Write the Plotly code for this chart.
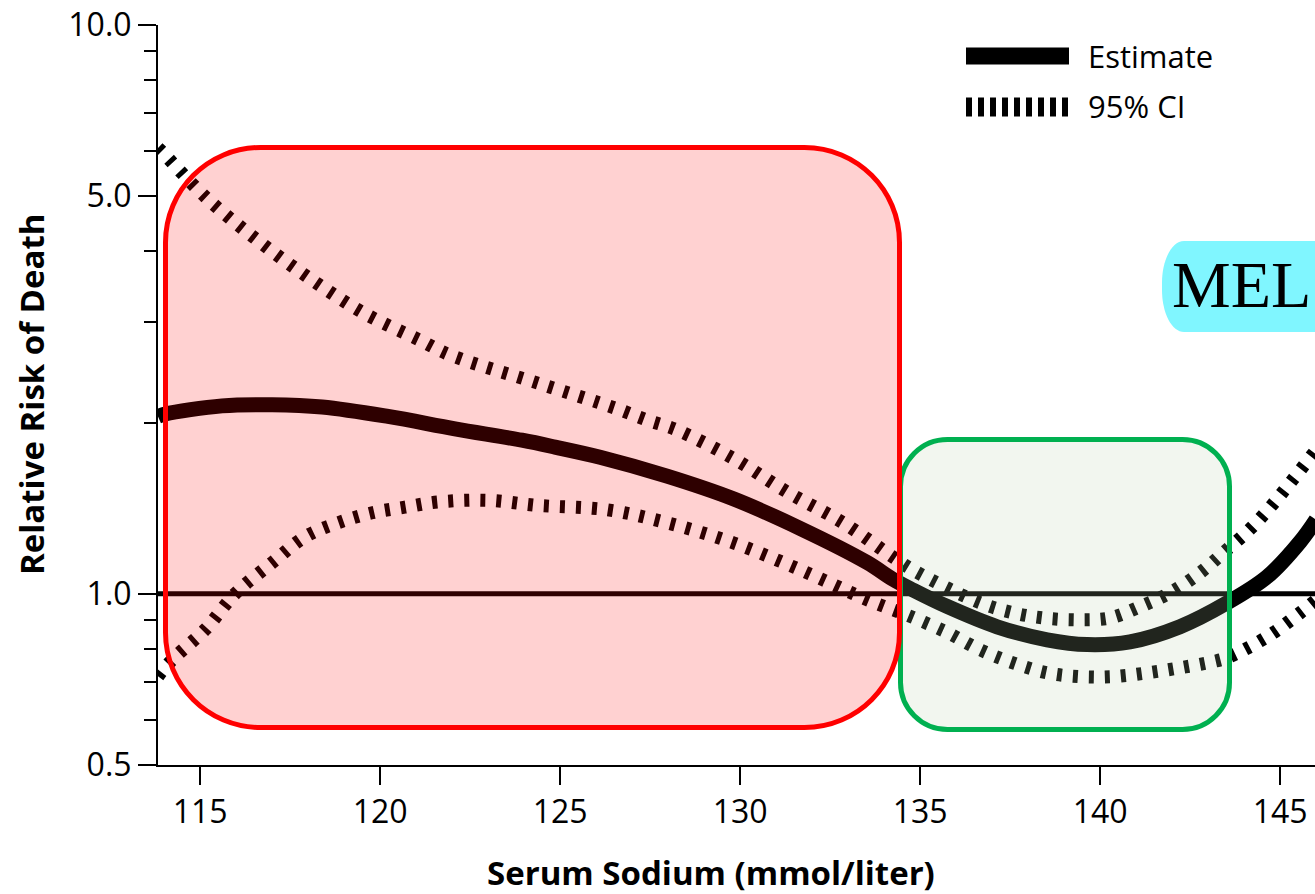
import numpy as np
import plotly.graph_objects as go

# Relative risk of death versus serum sodium (mmol/liter)
est_sodium = [113.83, 114.03, 115.61, 117.0, 118.39, 120.22, 122.08, 123.94, 124.86, 126.11,
              127.97, 129.81, 131.67, 133.53, 134.25, 134.81, 135.75, 137.14, 138.53, 139.64,
              140.83, 142.22, 143.53, 144.64, 145.56, 146.0]
est_rr = [2.05, 2.07, 2.14, 2.15, 2.13, 2.05, 1.95, 1.862, 1.811, 1.738,
          1.61, 1.469, 1.303, 1.135, 1.06, 1.015, 0.95, 0.875, 0.83, 0.814,
          0.823, 0.875, 0.964, 1.071, 1.235, 1.35]

ci_up_sodium = [113.83, 113.97, 115.14, 116.58, 118.06, 119.53, 121.11, 121.94, 124.44, 126.53,
                127.42, 128.25, 129.81, 131.31, 132.86, 134.25, 134.81, 136.67, 137.58, 138.42,
                139.36, 140.28, 141.11, 141.94, 142.78, 143.42, 144.17, 144.81, 145.36, 146.0]
ci_up_rr = [6.08, 5.96, 4.99, 4.19, 3.58, 3.12, 2.79, 2.63, 2.34, 2.12,
            2.02, 1.94, 1.73, 1.51, 1.333, 1.16, 1.10, 0.964, 0.926, 0.907,
            0.90, 0.907, 0.949, 1.004, 1.089, 1.18, 1.30, 1.44, 1.59, 1.79]

ci_lo_sodium = [113.83, 113.97, 114.31, 115.14, 115.97, 117.0, 117.92, 118.83, 119.78, 120.69,
                121.61, 123.0, 124.39, 126.31, 127.97, 129.81, 131.67, 133.53, 134.25, 134.72,
                135.75, 136.67, 137.58, 138.53, 139.44, 140.36, 141.31, 142.22, 143.14, 143.53,
                144.64, 145.56, 146.0]
ci_lo_rr = [0.716, 0.735, 0.775, 0.865, 1.0, 1.134, 1.26, 1.333, 1.388, 1.42,
            1.45, 1.46, 1.43, 1.405, 1.333, 1.229, 1.102, 0.976, 0.937, 0.913,
            0.855, 0.797, 0.756, 0.726, 0.715, 0.715, 0.726, 0.741, 0.76, 0.772,
            0.84, 0.926, 0.975]

reference_rr = 1.0
x_range = [113.83, 145.97]
y_range = [0.5, 10.0]

x_ticks = [115, 120, 125, 130, 135, 140, 145]
y_ticks = [0.5, 1.0, 5.0, 10.0]
y_tick_text = ["0.5", "1.0", "5.0", "10.0"]
y_minor_ticks = [0.6, 0.7, 0.8, 0.9, 2, 3, 4, 6, 7, 8, 9]

legend_labels = ["Estimate", "95% CI"]
x_title = "Serum Sodium (mmol/liter)"
y_title = "Relative Risk of Death"
badge_text = "MEL"

# Figure geometry (pixels)
W, H = 1315, 894
PL, PR, PT, PB = 158, 1315, 25, 765


def px(x):
    return (x - PL) / (PR - PL)


def py(y):
    return (PB - y) / (PB - PT)


def rounded_rect(x0, y0, x1, y1, rx, ry=None):
    """SVG path (paper coordinates) for a rounded rectangle given in pixels."""
    ry = rx if ry is None else ry
    k = 0.5523
    pts = [
        ("M", [(x0 + rx, y0)]),
        ("L", [(x1 - rx, y0)]),
        ("C", [(x1 - rx + k * rx, y0), (x1, y0 + ry - k * ry), (x1, y0 + ry)]),
        ("L", [(x1, y1 - ry)]),
        ("C", [(x1, y1 - ry + k * ry), (x1 - rx + k * rx, y1), (x1 - rx, y1)]),
        ("L", [(x0 + rx, y1)]),
        ("C", [(x0 + rx - k * rx, y1), (x0, y1 - ry + k * ry), (x0, y1 - ry)]),
        ("L", [(x0, y0 + ry)]),
        ("C", [(x0, y0 + ry - k * ry), (x0 + rx - k * rx, y0), (x0 + rx, y0)]),
    ]
    parts = []
    for cmd, coords in pts:
        parts.append(cmd + " ".join(f"{px(a):.5f},{py(b):.5f}" for a, b in coords))
    return " ".join(parts) + " Z"


fig = go.Figure()

# Reference line at relative risk 1.0
fig.add_trace(go.Scatter(
    x=x_range, y=[reference_rr, reference_rr], mode="lines",
    line=dict(color="black", width=5), showlegend=False, hoverinfo="skip"))

# Confidence bounds
for xs, ys in [(ci_up_sodium, ci_up_rr), (ci_lo_sodium, ci_lo_rr)]:
    fig.add_trace(go.Scatter(
        x=xs, y=ys, mode="lines",
        line=dict(color="black", width=13, dash="5px,11px", shape="spline", smoothing=1.0),
        showlegend=False, hoverinfo="skip"))

# Point estimate
fig.add_trace(go.Scatter(
    x=est_sodium, y=est_rr, mode="lines",
    line=dict(color="black", width=15, shape="spline", smoothing=1.0),
    showlegend=False, hoverinfo="skip"))

shapes = [
    # sodium ranges highlighted over the curves
    dict(type="path", xref="paper", yref="paper", layer="above",
         path=rounded_rect(900.5, 439.5, 1229.5, 729.5, 47),
         line=dict(color="#00B050", width=5), fillcolor="rgba(185,205,165,0.18)"),
    dict(type="path", xref="paper", yref="paper", layer="above",
         path=rounded_rect(165.5, 147.5, 899.5, 727.5, 95),
         line=dict(color="#FF0000", width=5), fillcolor="rgba(255,0,0,0.18)"),
    # badge background
    dict(type="path", xref="paper", yref="paper", layer="above",
         path=rounded_rect(1162, 241, 1440, 332, 22, 42),
         line=dict(width=0), fillcolor="#80F6FF"),
    # legend keys
    dict(type="line", xref="paper", yref="paper", layer="above",
         x0=px(966), x1=px(1069), y0=py(56), y1=py(56),
         line=dict(color="black", width=17)),
    dict(type="line", xref="paper", yref="paper", layer="above",
         x0=px(966), x1=px(1069), y0=py(107), y1=py(107),
         line=dict(color="black", width=19, dash="6px,6px")),
]

sans = "Open Sans"
annotations = [
    dict(text=legend_labels[0], xref="paper", yref="paper", x=px(1086), y=py(56),
         xanchor="left", yanchor="middle", showarrow=False,
         font=dict(family=sans, size=31, color="black")),
    dict(text=legend_labels[1], xref="paper", yref="paper", x=px(1086), y=py(106),
         xanchor="left", yanchor="middle", showarrow=False,
         font=dict(family=sans, size=31, color="black")),
    dict(text=x_title, xref="paper", yref="paper", x=px(711), y=py(872),
         xanchor="center", yanchor="middle", showarrow=False,
         font=dict(family=sans, size=33, color="black", weight="bold")),
    dict(text=y_title, xref="paper", yref="paper", x=px(31), y=py(395),
         xanchor="center", yanchor="middle", showarrow=False, textangle=-90,
         font=dict(family=sans, size=33, color="black", weight="bold")),
    dict(text=badge_text, xref="paper", yref="paper", x=px(1313), y=py(284),
         xanchor="right", yanchor="middle", showarrow=False,
         font=dict(family="Liberation Serif", size=66, color="black")),
]

fig.update_layout(
    width=W, height=H,
    margin=dict(l=PL, r=W - PR, t=PT, b=H - PB, pad=0),
    paper_bgcolor="white", plot_bgcolor="white",
    showlegend=False,
    shapes=shapes, annotations=annotations,
    xaxis=dict(
        range=x_range, tickvals=x_ticks, ticks="outside", ticklen=18, tickwidth=2,
        tickcolor="black", showline=True, linecolor="black", linewidth=2,
        showgrid=False, zeroline=False,
        tickfont=dict(family=sans, size=32, color="black")),
    yaxis=dict(
        type="log", range=[np.log10(y_range[0]), np.log10(y_range[1])],
        tickvals=y_ticks, ticktext=y_tick_text, ticks="outside", ticklen=18, tickwidth=2,
        tickcolor="black", showline=True, linecolor="black", linewidth=2,
        showgrid=False, zeroline=False,
        tickfont=dict(family=sans, size=32, color="black"),
        minor=dict(tickvals=y_minor_ticks, ticks="outside", ticklen=12, tickwidth=2,
                   tickcolor="black", showgrid=False)),
)

fig.write_html("out.html")
